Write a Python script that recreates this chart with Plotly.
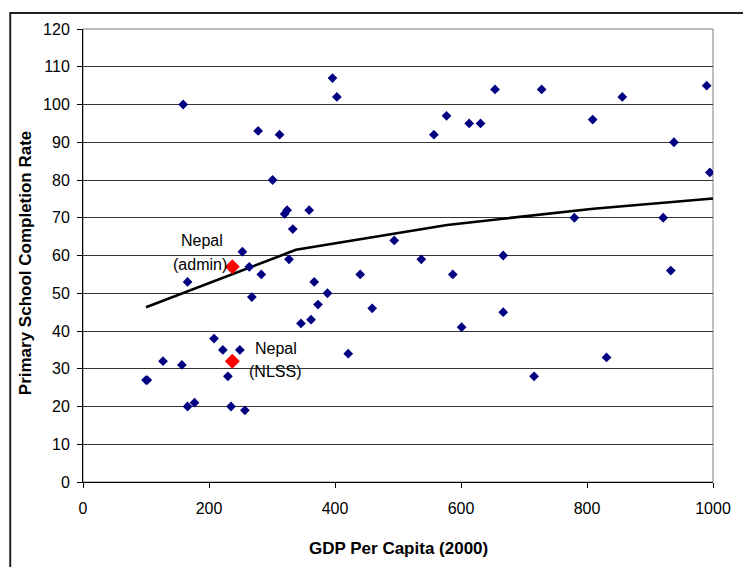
import plotly.graph_objects as go

# Country observations: GDP per capita (2000) and primary school completion rate
gdp = [100, 102, 127, 157, 159, 166, 166, 177, 208, 222, 230, 235, 249, 253, 257,
       264, 268, 278, 283, 301, 312, 320, 324, 327, 333, 346, 359, 362, 367, 373,
       388, 396, 403, 421, 440, 459, 494, 537, 557, 577, 587, 601, 613, 631, 654,
       667, 667, 716, 728, 780, 809, 831, 856, 921, 933, 938, 990, 995]
completion = [27, 27, 32, 31, 100, 53, 20, 21, 38, 35, 28, 20, 35, 61, 19,
              57, 49, 93, 55, 80, 92, 71, 72, 59, 67, 42, 72, 43, 53, 47,
              50, 107, 102, 34, 55, 46, 64, 59, 92, 97, 55, 41, 95, 95, 104,
              60, 45, 28, 104, 70, 96, 33, 102, 70, 56, 90, 105, 82]

# Nepal points (admin data, NLSS survey)
nepal_gdp = [237, 237]
nepal_completion = [57, 32]

# Trend line vertices
trend_gdp = [100, 338, 578, 810, 1000]
trend_completion = [46.3, 61.5, 68.1, 72.4, 75.1]

x_ticks = [0, 200, 400, 600, 800, 1000]
y_ticks = list(range(0, 121, 10))

FONT = "Liberation Sans, Arial, sans-serif"

fig = go.Figure()
fig.add_trace(go.Scatter(
    x=trend_gdp, y=trend_completion, mode="lines",
    line=dict(color="black", width=2.6), hoverinfo="skip", showlegend=False))
fig.add_trace(go.Scatter(
    x=gdp, y=completion, mode="markers",
    marker=dict(symbol="diamond", size=7.5, color="#000080", line=dict(width=0)),
    showlegend=False))
fig.add_trace(go.Scatter(
    x=nepal_gdp, y=nepal_completion, mode="markers",
    marker=dict(symbol="diamond", size=11.5, color="#FF0000", line=dict(width=0)),
    showlegend=False))

ann_font = dict(family=FONT, size=16, color="black")
labels = [
    ("Nepal", 188.3, 64.1), ("(admin)", 185.9, 57.5),
    ("Nepal", 306.2, 35.4), ("(NLSS)", 305.4, 29.2),
]
annotations = [dict(text=t, x=x, y=y, xref="x", yref="y", showarrow=False,
                    xanchor="center", yanchor="middle", font=ann_font)
               for t, x, y in labels]
annotations.append(dict(text="<b>GDP Per Capita (2000)</b>", x=0.5, y=-0.1468,
                        xref="paper", yref="paper", showarrow=False,
                        xanchor="center", yanchor="middle",
                        font=dict(family=FONT, size=17, color="black")))
annotations.append(dict(text="<b>Primary School Completion Rate</b>", x=-0.0918, y=0.4834,
                        xref="paper", yref="paper", showarrow=False, textangle=-90,
                        xanchor="center", yanchor="middle",
                        font=dict(family=FONT, size=17, color="black")))

shapes = [
    dict(type="rect", xref="paper", yref="paper", x0=0, x1=1, y0=0, y1=1,
         line=dict(color="#808080", width=1), layer="below"),
    dict(type="rect", xref="paper", yref="paper", x0=-0.1155, x1=1.1, y0=-0.3, y1=1.0353,
         line=dict(color="#222222", width=2), layer="above"),
]

fig.update_layout(
    width=743, height=567,
    margin=dict(l=83, r=28, t=29, b=85),
    paper_bgcolor="white", plot_bgcolor="white",
    font=dict(family=FONT, size=16, color="black"),
    annotations=annotations, shapes=shapes,
    xaxis=dict(range=[0, 1000], tickvals=x_ticks, showgrid=False, zeroline=False,
               showline=True, linecolor="black", linewidth=1,
               ticks="outside", ticklen=5, tickcolor="black",
               ticklabelstandoff=7,
               tickfont=dict(family=FONT, size=16)),
    yaxis=dict(range=[0, 120], tickvals=y_ticks, showgrid=True, gridcolor="#333333",
               gridwidth=1, zeroline=False, showline=True, linecolor="black",
               linewidth=1, ticks="outside", ticklen=5, tickcolor="black",
               ticklabelstandoff=4,
               tickfont=dict(family=FONT, size=16)),
)

fig.write_html("out.html")
